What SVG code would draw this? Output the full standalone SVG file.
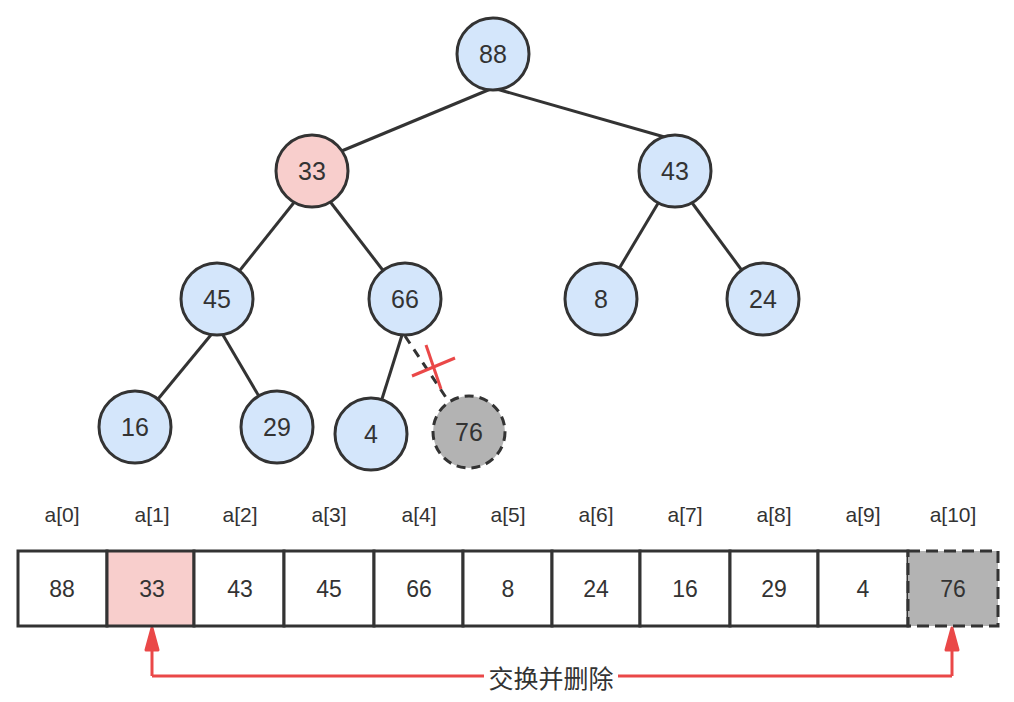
<svg xmlns="http://www.w3.org/2000/svg" width="1014" height="702" viewBox="0 0 1014 702">
<style>
.n{fill:#d4e6fb;stroke:#333;stroke-width:3}
.t{font-family:"Liberation Sans",Arial,sans-serif;font-size:25px;fill:#333;text-anchor:middle;dominant-baseline:central}
.e{stroke:#333;stroke-width:3;fill:none}
.c{fill:#fff;stroke:#333;stroke-width:3}
.lb{font-family:"Liberation Sans",Arial,sans-serif;font-size:21px;fill:#333;text-anchor:middle}
</style>
<rect width="1014" height="702" fill="#fff"/>
<g id="connectors">
<line class="e" x1="493" y1="88" x2="320" y2="160"/>
<line class="e" x1="493" y1="88" x2="675" y2="140"/>
<line class="e" x1="300" y1="195" x2="217" y2="299"/>
<line class="e" x1="325" y1="195" x2="405" y2="299"/>
<line class="e" x1="660" y1="200" x2="601" y2="299"/>
<line class="e" x1="690" y1="200" x2="763" y2="299"/>
<line class="e" x1="215" y1="330" x2="135" y2="427"/>
<line class="e" x1="220" y1="330" x2="277" y2="427"/>
<line class="e" x1="403" y1="332" x2="371" y2="434"/>
<line class="e" x1="405" y1="336" x2="469" y2="432" stroke-dasharray="9 7"/>
<g stroke="#ea4848" stroke-width="3">
<line x1="412" y1="376" x2="455" y2="358"/>
<line x1="426" y1="345" x2="441" y2="389"/>
</g>
<path d="M152,676 L952,676" stroke="#ea4848" stroke-width="3" fill="none"/>
<path d="M152,676 L152,630" stroke="#ea4848" stroke-width="3" fill="none"/>
<path d="M952,676 L952,630" stroke="#ea4848" stroke-width="3" fill="none"/>
<path d="M146,650 L152,628 L158,650 z" fill="#ea4848" stroke="#ea4848" stroke-width="3" stroke-linejoin="round"/>
<path d="M946,650 L952,628 L958,650 z" fill="#ea4848" stroke="#ea4848" stroke-width="3" stroke-linejoin="round"/>
<rect x="484" y="662" width="134" height="30" fill="#fff"/>
<text x="551" y="677" class="t" style="font-family:'Noto Sans CJK SC',sans-serif;font-size:25px">交换并删除</text>
</g>
<g id="n88"><circle class="n" cx="493" cy="54" r="36"/><text class="t" x="493" y="54">88</text></g>
<g id="n33"><circle class="n" cx="312" cy="171" r="36" style="fill:#f8cecc"/><text class="t" x="312" y="171">33</text></g>
<g id="n43"><circle class="n" cx="675" cy="171" r="36"/><text class="t" x="675" y="171">43</text></g>
<g id="n45"><circle class="n" cx="217" cy="299" r="36"/><text class="t" x="217" y="299">45</text></g>
<g id="n66"><circle class="n" cx="405" cy="299" r="36"/><text class="t" x="405" y="299">66</text></g>
<g id="n8"><circle class="n" cx="601" cy="299" r="36"/><text class="t" x="601" y="299">8</text></g>
<g id="n24"><circle class="n" cx="763" cy="299" r="36"/><text class="t" x="763" y="299">24</text></g>
<g id="n16"><circle class="n" cx="135" cy="427" r="36"/><text class="t" x="135" y="427">16</text></g>
<g id="n29"><circle class="n" cx="277" cy="427" r="36"/><text class="t" x="277" y="427">29</text></g>
<g id="n4"><circle class="n" cx="371" cy="434" r="36"/><text class="t" x="371" y="434">4</text></g>
<g id="n76"><circle class="n" cx="469" cy="432" r="36" style="fill:#b3b3b3" stroke-dasharray="9 6"/><text class="t" x="469" y="432">76</text></g>
<g id="array">
<g class="lb">
<text x="62" y="522">a[0]</text><text x="152" y="522">a[1]</text><text x="240" y="522">a[2]</text>
<text x="329" y="522">a[3]</text><text x="419" y="522">a[4]</text><text x="508" y="522">a[5]</text>
<text x="596" y="522">a[6]</text><text x="685" y="522">a[7]</text><text x="774" y="522">a[8]</text>
<text x="863" y="522">a[9]</text><text x="953" y="522">a[10]</text>
</g>
<rect class="c" x="18" y="551" width="89" height="75"/>
<rect class="c" x="107" y="551" width="87" height="75" style="fill:#f8cecc"/>
<rect class="c" x="194" y="551" width="90" height="75"/>
<rect class="c" x="284" y="551" width="90" height="75"/>
<rect class="c" x="374" y="551" width="89" height="75"/>
<rect class="c" x="463" y="551" width="89" height="75"/>
<rect class="c" x="552" y="551" width="88" height="75"/>
<rect class="c" x="640" y="551" width="90" height="75"/>
<rect class="c" x="730" y="551" width="88" height="75"/>
<rect class="c" x="818" y="551" width="90" height="75"/>
<rect class="c" x="908" y="551" width="90" height="75" style="fill:#b3b3b3" stroke-dasharray="12 6"/>
<g class="t" style="font-size:23px">
<text x="62" y="589">88</text><text x="152" y="589">33</text><text x="240" y="589">43</text>
<text x="329" y="589">45</text><text x="419" y="589">66</text><text x="508" y="589">8</text>
<text x="596" y="589">24</text><text x="685" y="589">16</text><text x="774" y="589">29</text>
<text x="863" y="589">4</text><text x="953" y="589">76</text>
</g>
</g>
</svg>
